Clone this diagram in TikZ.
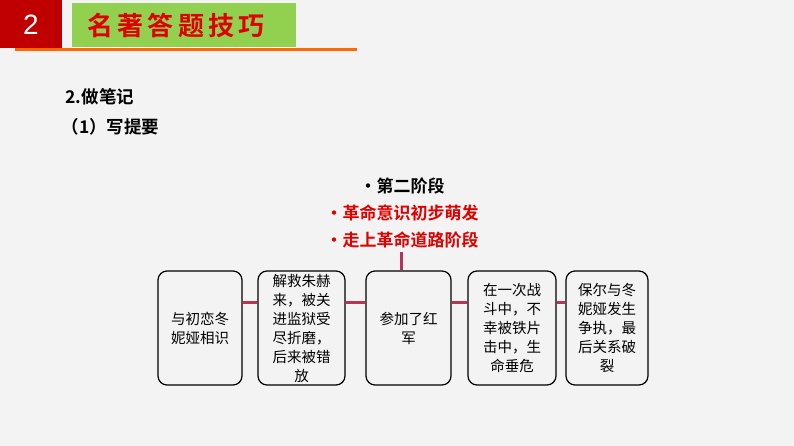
\documentclass[tikz,border=0pt]{standalone}
\usepackage{fontspec}
\newfontfamily\cjk{Noto Sans CJK SC}
\newfontfamily\cjkb{Noto Sans CJK SC Bold}
\setmainfont{Liberation Sans}
\definecolor{bg}{HTML}{F3F3F3}
\definecolor{hdred}{HTML}{C00000}
\definecolor{hdgreen}{HTML}{92D050}
\definecolor{lnk}{HTML}{B8325A}
\definecolor{titred}{HTML}{E00000}
\begin{document}
\begin{tikzpicture}[x=1pt,y=-1pt,
  box/.style={draw=black,line width=1.2pt,rounded corners=9pt,fill=bg,minimum width=#1,minimum height=114pt,align=center,font=\cjk\fontsize{14.5}{19}\selectfont,text width=62pt,inner sep=0pt},
  link/.style={draw=lnk,line width=3pt}]
\fill[bg] (0,0) rectangle (794,446);
\useasboundingbox (0,0) rectangle (794,446);
\fill[hdred] (0,0) rectangle (62,48);
\node[text=white,font=\fontsize{28}{28}\selectfont] (num) at (31,25) {2};
\fill[hdgreen] (72,3) rectangle (296,47);
\node[text=titred,font=\cjkb\fontsize{26}{26}\selectfont] (tit) at (176,26) {名\,著\,答\,题\,技\,巧};
\fill[orange!80!red] (15,48.5) rectangle (357,51);
\node[anchor=west,font=\cjkb\fontsize{17.5}{17.5}\selectfont] (h1) at (62,97) {2.做笔记};
\node[anchor=west,font=\cjkb\fontsize{17.5}{17.5}\selectfont] (h2) at (58,127) {（1）写提要};
\node[font=\cjkb\fontsize{17}{17}\selectfont] (s0) at (402,186) {•第二阶段};
\node[text=titred,font=\cjkb\fontsize{17}{17}\selectfont] (s1) at (402,213) {•革命意识初步萌发};
\node[text=titred,font=\cjkb\fontsize{17}{17}\selectfont] (s2) at (402,240) {•走上革命道路阶段};
\node[box=84pt] (b1) at (200,328) {与初恋冬\\妮娅相识};
\node[box=87pt] (b2) at (301.5,328) {解救朱赫\\来，被关\\进监狱受\\尽折磨，\\后来被错\\放};
\node[box=85pt] (b3) at (408.5,328) {参加了红\\军};
\node[box=88pt] (b4) at (512,328) {在一次战\\斗中，不\\幸被铁片\\击中，生\\命垂危};
\node[box=82pt] (b5) at (607,328) {保尔与冬\\妮娅发生\\争执，最\\后关系破\\裂};
\draw[link] (b1.east|-0,302) -- (b2.west|-0,302);
\draw[link] (b2.east|-0,302) -- (b3.west|-0,302);
\draw[link] (b3.east|-0,302) -- (b4.west|-0,302);
\draw[link] (b4.east|-0,302) -- (b5.west|-0,302);
\draw[link] (s2.south-|401,0) -- (b3.north-|401,0);
\end{tikzpicture}
\end{document}
